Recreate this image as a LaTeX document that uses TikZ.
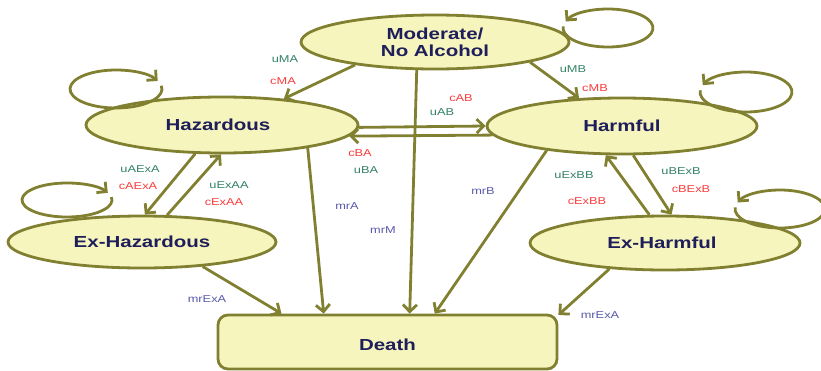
\documentclass[tikz,border=0pt]{standalone}
\usepackage{fontspec}
\setmainfont{Liberation Sans}
\newfontfamily\nodefont[FakeStretch=1.28]{Liberation Sans}
\usetikzlibrary{shapes.geometric,arrows.meta}
\definecolor{fillc}{RGB}{247,245,190}
\definecolor{olivec}{RGB}{128,128,48}
\definecolor{navyc}{RGB}{30,30,90}
\definecolor{greenc}{RGB}{50,130,100}
\definecolor{redc}{RGB}{250,60,60}
\definecolor{bluec}{RGB}{90,90,170}
\begin{document}
\begin{tikzpicture}[x=1pt,y=1pt,
  st/.style={ellipse, draw=olivec, fill=fillc, line width=2.8pt, inner sep=0pt,
    font=\nodefont\bfseries\fontsize{16}{17}\selectfont, text=navyc, align=center},
  tr/.style={draw=olivec, line width=2.8pt, -{Straight Barb[length=7pt,width=14pt]}},
  lbl/.style={font=\nodefont\fontsize{10}{11}\selectfont, inner sep=0pt},
  lg/.style={lbl, text=greenc},
  lr/.style={lbl, text=redc},
  lb/.style={lbl, text=bluec}]
\useasboundingbox (0,0) rectangle (821,-370);

% states
\node[st, minimum width=268, minimum height=54] (mod) at (435,-42) {Moderate/\\No Alcohol};
\node[st, minimum width=272, minimum height=56] (haz) at (222,-125) {\hspace*{-8pt}Hazardous};
\node[st, minimum width=270, minimum height=56] (harm) at (622,-126) {Harmful};
\node[st, minimum width=268, minimum height=52] (exhaz) at (142,-242) {Ex-Hazardous};
\node[st, minimum width=270, minimum height=54] (exharm) at (665,-243) {\hspace*{-6pt}Ex-Harmful};
\node[draw=olivec, fill=fillc, line width=2.8pt, rounded corners=10pt,
  minimum width=339, minimum height=54, inner sep=0pt, text height=17.5pt, text depth=0pt,
  font=\nodefont\bfseries\fontsize{16}{17}\selectfont, text=navyc] (death) at (387.5,-342) {Death};

% self loops
\draw[tr] ([shift={(175:45 and 19)}]608,-28) arc[start angle=175, end angle=520, x radius=45, y radius=19];
\draw[tr] ([shift={(370:46 and 19)}]116,-89) arc[start angle=370, end angle=25, x radius=46, y radius=19];
\draw[tr] ([shift={(175:46 and 20)}]746,-92) arc[start angle=175, end angle=520, x radius=46, y radius=20];
\draw[tr] ([shift={(370:45 and 17)}]67,-200) arc[start angle=370, end angle=25, x radius=45, y radius=17];
\draw[tr] ([shift={(175:45 and 19)}]780,-209) arc[start angle=175, end angle=520, x radius=45, y radius=19];

% transitions
\draw[tr] (mod.196.7) -- (haz.23);
\draw[tr] (mod.-12.8) -- (harm.147.5);
\draw[tr] (mod.-123) -- (death.52.8);
\draw[tr] (haz.-1.3) -- (harm.180.4);
\draw[tr] (harm.184.5) -- (haz.-5);
\draw[tr] (haz.227) -- (exhaz.84);
\draw[tr] (exhaz.47) -- (haz.268);
\draw[tr] (haz.-15.2) -- (death.156.3);
\draw[tr] (harm.198) -- (death.31.2);
\draw[tr] (harm.-69.2) -- (exharm.77);
\draw[tr] (exharm.119) -- (harm.241);
\draw[tr] (exhaz.-22.4) -- (death.165.6);
\draw[tr] (exharm.205.3) -- (death.9.7);

% labels
\node[lg] (uMA) at (285,-59) {uMA};
\node[lr] (cMA) at (283,-81) {cMA};
\node[lg] (uMB) at (573,-69) {uMB};
\node[lr] (cMB) at (595,-88) {cMB};
\node[lr] (cAB) at (461,-98) {cAB};
\node[lg] (uAB) at (442,-112) {uAB};
\node[lr] (cBA) at (360,-153) {cBA};
\node[lg] (uBA) at (366,-170) {uBA};
\node[lg] (uAExA) at (140,-169) {uAExA};
\node[lr] (cAExA) at (138,-186) {cAExA};
\node[lg] (uExAA) at (229,-185) {uExAA};
\node[lr] (cExAA) at (224,-202) {cExAA};
\node[lb] (mrA) at (347,-206) {mrA};
\node[lb] (mrM) at (383,-230) {mrM};
\node[lb] (mrB) at (483,-191) {mrB};
\node[lg] (uExBB) at (574,-175) {uExBB};
\node[lr] (cExBB) at (587,-201) {cExBB};
\node[lg] (uBExB) at (681,-171) {uBExB};
\node[lr] (cBExB) at (691,-189) {cBExB};
\node[lb] (mrExA1) at (207,-299) {mrExA};
\node[lb] (mrExA2) at (600,-315) {mrExA};
\end{tikzpicture}
\end{document}
